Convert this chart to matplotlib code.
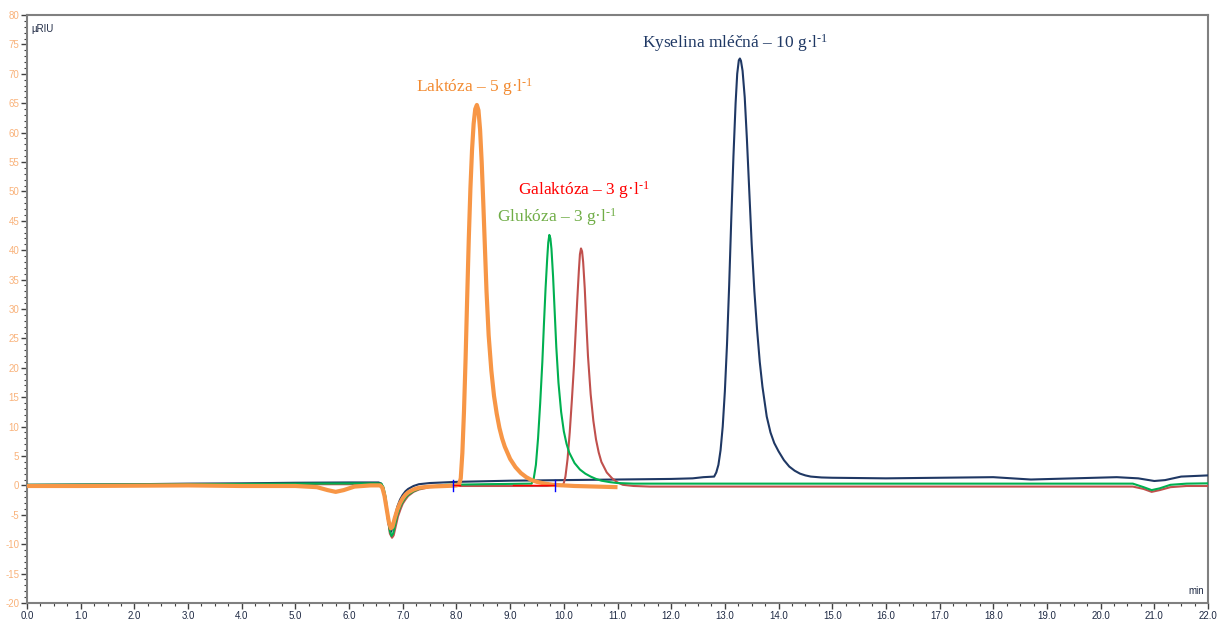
import matplotlib
matplotlib.use("Agg")
import matplotlib.pyplot as plt
from matplotlib.ticker import MultipleLocator, FuncFormatter

# ---- data (time in min, signal in µRIU) ----
lak_t = [0.0, 1.0, 2.0, 3.0, 4.0, 5.0, 5.4, 5.6, 5.75, 5.9, 6.1, 6.4, 6.58, 6.62, 6.66, 6.7, 6.74,
         6.78, 6.81, 6.85, 6.9, 6.95, 7.0, 7.05, 7.1, 7.2, 7.3, 7.5, 7.8, 8.0,
         8.05, 8.08, 8.11, 8.14, 8.17, 8.2, 8.23, 8.26, 8.29, 8.32, 8.35, 8.38, 8.41, 8.44,
         8.47, 8.5, 8.53, 8.56, 8.6, 8.65, 8.7, 8.75, 8.8, 8.85, 8.9, 9.0, 9.1, 9.2, 9.3,
         9.4, 9.5, 9.65, 9.8, 10.2, 11.0]
lak_v = [-0.1, -0.1, -0.05, 0.0, -0.1, -0.1, -0.3, -0.8, -1.1, -0.8, -0.2, 0.0, 0.0, -0.4, -1.8, -4.0, -6.2,
         -7.3, -7.0, -5.6, -4.1, -3.0, -2.2, -1.6, -1.2, -0.7, -0.4, -0.2, -0.1, 0.0,
         0.2, 1.2, 5.5, 12.5, 21.5, 32.0, 42.0, 50.5, 57.0, 61.5, 64.0, 64.7, 63.8, 60.5,
         55.0, 48.0, 40.5, 33.0, 25.5, 19.5, 15.2, 12.2, 9.8, 8.0, 6.6, 4.5, 3.1, 2.1, 1.4,
         0.9, 0.6, 0.3, 0.1, -0.1, -0.3]

glu_t = [0.0, 3.0, 5.0, 6.5, 6.6, 6.64, 6.68, 6.72, 6.76, 6.79, 6.82, 6.86, 6.9, 6.95, 7.0, 7.05,
         7.1, 7.2, 7.3, 7.5, 7.8, 8.5,
         9.4, 9.44, 9.48, 9.52, 9.56, 9.6, 9.63, 9.66, 9.69, 9.71, 9.73, 9.75, 9.77, 9.8, 9.83,
         9.86, 9.9, 9.95, 10.0, 10.05, 10.1, 10.2, 10.3, 10.4, 10.5, 10.6, 10.7, 10.86, 11.0,
         11.3, 12.0, 15.0, 18.0, 20.0, 20.6, 20.8, 20.95, 21.1, 21.3, 21.6, 22.0]
glu_v = [0.1, 0.2, 0.3, 0.35, 0.3, -0.3, -2.0, -5.0, -7.8, -8.6, -8.2, -6.6, -5.0, -3.7, -2.8, -2.1,
         -1.6, -1.0, -0.6, -0.2, 0.1, 0.2,
         0.3, 1.2, 3.5, 8.0, 14.0, 21.0, 27.5, 33.5, 38.5, 41.3, 42.6, 42.0, 40.2, 35.5, 29.5,
         23.5, 17.5, 12.5, 9.2, 7.1, 5.6, 3.8, 2.7, 2.0, 1.5, 1.1, 0.8, 0.55, 0.4,
         0.3, 0.3, 0.3, 0.3, 0.3, 0.3, -0.3, -0.8, -0.5, 0.1, 0.3, 0.35]

gal_t = [0.0, 3.0, 5.0, 6.5, 6.6, 6.64, 6.68, 6.72, 6.76, 6.8, 6.83, 6.87, 6.91, 6.96, 7.0, 7.05,
         7.1, 7.2, 7.3, 7.5, 8.0, 9.0,
         9.97, 10.0, 10.03, 10.07, 10.11, 10.15, 10.19, 10.22, 10.25, 10.28, 10.3, 10.32, 10.34,
         10.36, 10.39, 10.42, 10.45, 10.5, 10.55, 10.6, 10.65, 10.7, 10.8, 10.9, 11.0, 11.1,
         11.3, 11.6, 13.0, 16.0, 19.0, 20.6, 20.8, 20.95, 21.1, 21.3, 21.6, 22.0]
gal_v = [0.0, 0.1, 0.2, 0.2, 0.1, -0.5, -2.3, -5.4, -8.2, -8.9, -8.5, -6.9, -5.3, -4.0, -3.1, -2.4,
         -1.8, -1.1, -0.7, -0.3, -0.1, -0.1,
         -0.1, 0.4, 1.5, 4.5, 9.0, 14.5, 20.5, 26.0, 31.5, 36.5, 39.3, 40.3, 39.8,
         38.0, 33.5, 27.5, 22.0, 15.5, 11.0, 7.8, 5.6, 4.0, 2.2, 1.2, 0.5, 0.1,
         -0.1, -0.2, -0.2, -0.2, -0.2, -0.2, -0.6, -1.1, -0.8, -0.3, -0.1, -0.1]

kys_t = [0.0, 1.0, 2.0, 3.0, 4.0, 5.0, 6.0, 6.55, 6.6, 6.64, 6.68, 6.72, 6.75, 6.78, 6.81, 6.85,
         6.9, 6.95, 7.0, 7.05, 7.1, 7.2, 7.3, 7.5, 8.0, 9.0, 10.0, 11.0, 12.0, 12.4, 12.6, 12.8,
         12.84, 12.88, 12.92, 12.96, 13.0, 13.04, 13.08, 13.12, 13.16, 13.2, 13.23, 13.26, 13.28,
         13.3, 13.33, 13.37, 13.41, 13.45, 13.5, 13.55, 13.6, 13.65, 13.7, 13.78, 13.85, 13.92,
         14.0, 14.1, 14.2, 14.3, 14.4, 14.5, 14.6, 14.8, 15.0, 16.0, 17.0, 18.0, 18.7, 19.5,
         20.3, 20.7, 21.0, 21.2, 21.5, 22.0]
kys_v = [0.1, 0.15, 0.2, 0.3, 0.35, 0.45, 0.5, 0.5, 0.3, -0.6, -2.8, -5.6, -7.3, -7.9, -7.2, -5.4,
         -3.6, -2.4, -1.6, -1.0, -0.6, -0.1, 0.2, 0.4, 0.6, 0.8, 0.9, 1.0, 1.1, 1.2, 1.4, 1.5,
         2.2, 3.5, 6.0, 10.0, 16.0, 24.0, 34.0, 45.5, 56.0, 65.0, 70.0, 72.3, 72.6,
         72.2, 70.5, 66.0, 59.0, 51.0, 41.0, 33.0, 26.5, 21.0, 16.8, 11.7, 9.0, 7.2,
         5.8, 4.3, 3.2, 2.5, 2.0, 1.7, 1.5, 1.35, 1.3, 1.2, 1.3, 1.4, 1.0, 1.2,
         1.4, 1.2, 0.75, 0.9, 1.5, 1.7]

# integration markers
int_ticks_t = [7.94, 9.84]
int_base_t = [(7.94, 8.07), (9.05, 9.84)]

labels = ["Kyselina mléčná – 10 g·l", "Laktóza – 5 g·l", "Galaktóza – 3 g·l", "Glukóza – 3 g·l"]
label_pos = [(13.2, 75.3), (7.25, 67.8), (9.15, 50.3), (8.75, 45.7)]
label_ha = ["center", "left", "left", "left"]
label_colors = ["#1F3864", "#F28A30", "#FF0000", "#70AD47"]

x_ticks = list(range(0, 23))
y_ticks = list(range(-20, 81, 5))

# ---- figure ----
plt.rcParams['mathtext.fontset'] = 'custom'
plt.rcParams['mathtext.rm'] = 'Liberation Serif'
plt.rcParams['mathtext.it'] = 'Liberation Serif:italic'

fig = plt.figure(figsize=(12.17, 6.19), dpi=100)
ax = fig.add_axes([27 / 1217, 16 / 619, (1208 - 27) / 1217, (603 - 15) / 619])

ax.plot(kys_t, kys_v, color="#1F3864", lw=1.5, zorder=3)
ax.plot(gal_t, gal_v, color="#C0504D", lw=1.5, zorder=3)
ax.plot(glu_t, glu_v, color="#00B050", lw=1.5, zorder=4)
ax.plot(lak_t, lak_v, color="#F79646", lw=3.0, zorder=5, solid_capstyle="butt")

for a, b in int_base_t:
    ax.plot([a, b], [0, 0], color="#FF0000", lw=1.0, zorder=6)
for t in int_ticks_t:
    ax.plot([t, t], [-0.9, 0.9], color="#0000FF", lw=1.0, zorder=6)

for txt, (x, y), ha, c in zip(labels, label_pos, label_ha, label_colors):
    ax.text(x, y, txt + r"$^{\text{-1}}$", color=c, ha=ha, va="center",
            family="Liberation Serif", fontsize=12.5)

ax.set_xlim(0, 22)
ax.set_ylim(-20, 80)
ax.set_xticks(x_ticks)
ax.set_yticks(y_ticks)
ax.xaxis.set_minor_locator(MultipleLocator(0.25))
ax.yaxis.set_minor_locator(MultipleLocator(1))
ax.xaxis.set_major_formatter(FuncFormatter(lambda v, p: f"{v:.1f}".replace(".", ",")))
ax.yaxis.set_major_formatter(FuncFormatter(lambda v, p: f"{int(round(v))}"))

ax.tick_params(axis="both", which="major", direction="out", length=4, width=1.0,
               color="#404040", labelsize=7, pad=1.5)
ax.tick_params(axis="both", which="minor", direction="out", length=2, width=0.8, color="#404040")
for lab in ax.get_yticklabels():
    lab.set_color("#F9B27A")
    lab.set_family("Liberation Sans")
for lab in ax.get_xticklabels():
    lab.set_color("#1F2A44")
    lab.set_family("Liberation Sans")

for s in ax.spines.values():
    s.set_color("#808080")
    s.set_linewidth(1.5)

ax.text(0.004, 0.985, "µRIU", transform=ax.transAxes, ha="left", va="top",
        fontsize=7, family="Liberation Sans", color="#1F2A44")
ax.text(0.997, 0.012, "min", transform=ax.transAxes, ha="right", va="bottom",
        fontsize=7, family="Liberation Sans", color="#1F2A44")

fig.savefig("out.png", dpi=100)
